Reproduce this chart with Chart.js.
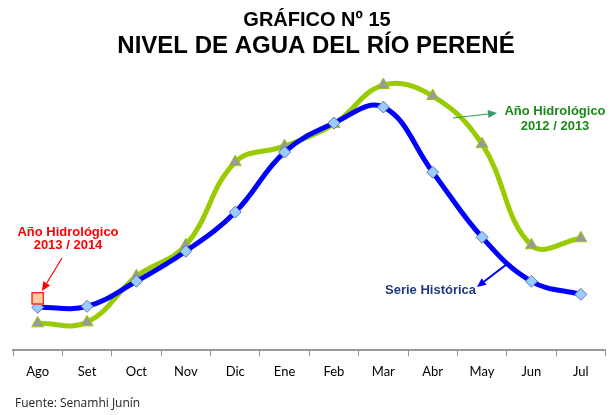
<!DOCTYPE html>
<html>
<head>
<meta charset="utf-8">
<script src="https://cdn.jsdelivr.net/npm/chart.js@4/dist/chart.umd.min.js"></script>
<style>
html,body{margin:0;padding:0;background:#fff;}
#wrap{width:615px;height:415px;position:relative;}
</style>
</head>
<body>
<div id="wrap"><canvas id="c" width="615" height="415"></canvas></div>
<script>
const categories = ["Ago","Set","Oct","Nov","Dic","Ene","Feb","Mar","Abr","May","Jun","Jul"];
const serieHistorica = [43, 44, 69, 99, 138, 198, 227, 243, 178, 113, 69, 56];
const hidro20122013 = [27, 28, 74, 105, 188, 204, 226, 265, 254, 206, 105, 112];
const hidro20132014 = [52, null, null, null, null, null, null, null, null, null, null, null];
const titleLines = ["GRÁFICO Nº 15", "NIVEL DE AGUA DEL RÍO PERENÉ"];
const sourceText = "Fuente: Senamhi Junín";

function arrow(ctx, x1, y1, x2, y2, color, w) {
  ctx.save();
  ctx.strokeStyle = color; ctx.fillStyle = color; ctx.lineWidth = w;
  const a = Math.atan2(y2 - y1, x2 - x1);
  const hl = 9, hw = 4;
  const bx = x2 - hl * Math.cos(a), by = y2 - hl * Math.sin(a);
  ctx.beginPath(); ctx.moveTo(x1, y1); ctx.lineTo(bx, by); ctx.stroke();
  ctx.beginPath();
  ctx.moveTo(x2, y2);
  ctx.lineTo(bx + hw * Math.sin(a), by - hw * Math.cos(a));
  ctx.lineTo(bx - hw * Math.sin(a), by + hw * Math.cos(a));
  ctx.closePath(); ctx.fill();
  ctx.restore();
}

const decor = {
  id: 'decor',
  afterDraw(chart) {
    const ctx = chart.ctx;
    ctx.save();
    ctx.textAlign = 'center';
    ctx.textBaseline = 'middle';
    ctx.fillStyle = '#000';
    ctx.font = 'bold 20px "Liberation Sans", Arial, sans-serif';
    ctx.fillText(titleLines[0], 317, 20);
    ctx.font = 'bold 24px "Liberation Sans", Arial, sans-serif';
    ctx.fillText(titleLines[1], 316, 46);

    ctx.font = 'bold 13px "Liberation Sans", Arial, sans-serif';
    ctx.fillStyle = '#ff0000';
    ctx.fillText("Año Hidrológico", 68, 232);
    ctx.fillText("2013 / 2014", 68, 245);
    arrow(ctx, 62, 258, 42, 291, '#ff0000', 1.2);

    ctx.fillStyle = '#1a8a1a';
    ctx.fillText("Año Hidrológico", 555, 111);
    ctx.fillText("2012 / 2013", 555, 126);
    arrow(ctx, 453, 118, 497, 113, '#339966', 1.2);

    ctx.fillStyle = '#1f3a7a';
    ctx.textAlign = 'left';
    ctx.fillText("Serie Histórica", 385, 290);
    arrow(ctx, 507, 264, 477, 287, '#0000ff', 2);

    ctx.fillStyle = '#222';
    ctx.font = '12px "Open Sans", sans-serif';
    ctx.fillText(sourceText, 15, 404);
    ctx.restore();
  }
};

new Chart(document.getElementById('c'), {
  type: 'line',
  data: {
    labels: categories,
    datasets: [
      {
        label: 'Año Hidrológico 2012 / 2013',
        data: hidro20122013,
        borderColor: '#99cc00',
        borderWidth: 5,
        tension: 0.4,
        pointStyle: 'triangle',
        pointRadius: 7,
        pointBackgroundColor: '#999999',
        pointBorderColor: '#99cc00',
        pointBorderWidth: 1,
        order: 2
      },
      {
        label: 'Serie Histórica',
        data: serieHistorica,
        borderColor: '#0000ff',
        borderWidth: 5,
        tension: 0.4,
        pointStyle: 'rectRot',
        pointRadius: 6,
        pointBackgroundColor: '#99ccff',
        pointBorderColor: '#6677aa',
        pointBorderWidth: 1,
        order: 1
      },
      {
        label: 'Año Hidrológico 2013 / 2014',
        data: hidro20132014,
        showLine: false,
        pointStyle: 'rect',
        pointRadius: 8,
        pointBackgroundColor: '#ffcc99',
        pointBorderColor: '#ee3333',
        pointBorderWidth: 1.5,
        order: 0
      }
    ]
  },
  options: {
    responsive: false,
    animation: false,
    events: [],
    layout: { padding: { top: 50, left: 13, right: 9, bottom: 27 } },
    plugins: { legend: { display: false }, tooltip: { enabled: false }, title: { display: false } },
    scales: {
      x: {
        offset: true,
        grid: { display: true, offset: true, drawOnChartArea: false, drawTicks: true, tickLength: 6, color: '#999999', lineWidth: 1 },
        border: { display: true, color: '#999999', width: 2 },
        ticks: { color: '#000', font: { family: 'Lato, "Open Sans", sans-serif', size: 13 }, padding: 8, maxRotation: 0 }
      },
      y: {
        display: false,
        min: 0,
        max: 300
      }
    }
  },
  plugins: [decor]
});
</script>
</body>
</html>
